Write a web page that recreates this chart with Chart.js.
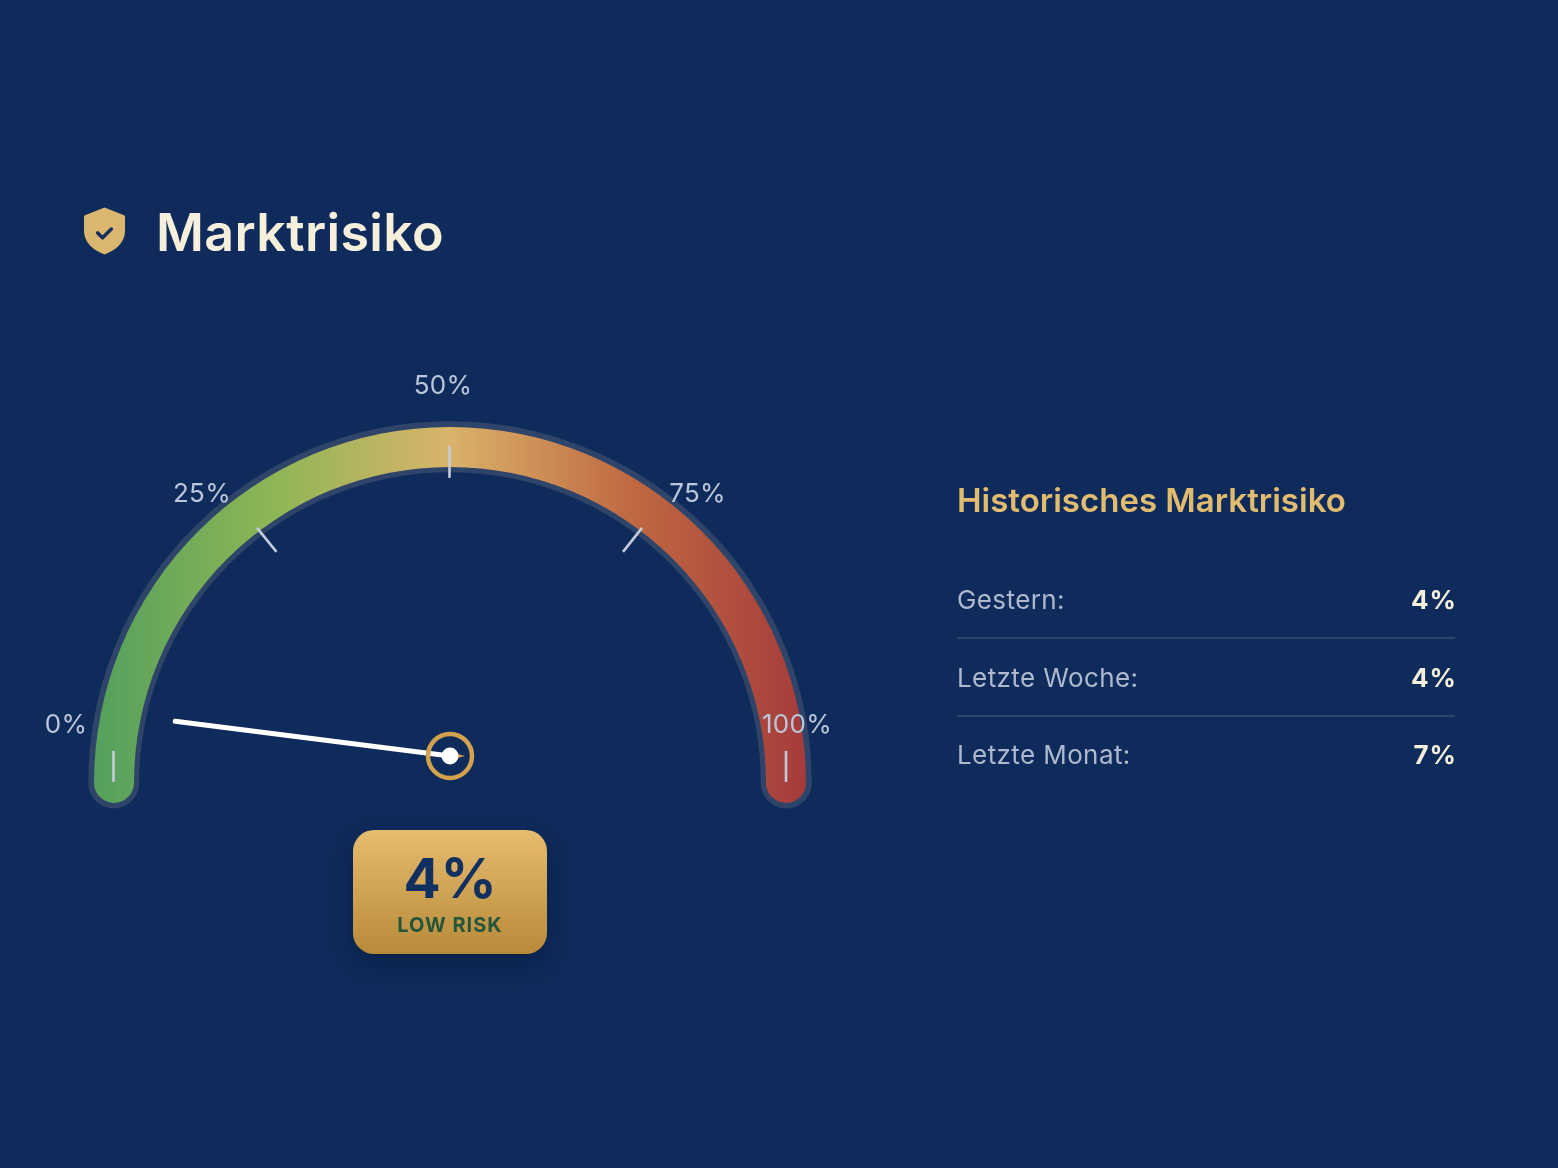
<!DOCTYPE html>
<html lang="de">
<head>
<meta charset="utf-8">
<title>Marktrisiko</title>
<script src="https://cdn.jsdelivr.net/npm/chart.js@4/dist/chart.umd.js"></script>
<style>
html,body{margin:0;padding:0;width:1558px;height:1168px;overflow:hidden;background:#0f2b5b;font-family:Inter,sans-serif}
#gauge{position:absolute;left:0;top:0;width:1558px;height:1168px}
.abs{position:absolute;white-space:nowrap}
#page{position:absolute;left:0;top:0;width:1558px;height:1168px;filter:blur(0.4px)}
#title{left:156px;top:201px;font-size:52px;line-height:63px;font-weight:600;color:#f5efdc;letter-spacing:.35px}
#shield{left:83px;top:205px;width:43px;height:52px}
#badge{left:353px;top:830px;width:194px;height:124px;border-radius:21px;background:linear-gradient(180deg,#e6bc6f,#b88a3a);box-shadow:0 10px 24px rgba(5,20,50,.45)}
#badgeValue{left:0;width:194px;top:14px;text-align:center;font-size:55px;line-height:68px;font-weight:700;color:#12305f}
#badgeText{left:0;width:194px;top:82px;text-align:center;font-size:20px;line-height:26px;font-weight:700;color:#25563b;letter-spacing:1px}
#histTitle{left:957px;top:479px;font-size:33px;line-height:42px;font-weight:600;color:#e2bc6e}
.rowL{left:957px;font-size:26px;line-height:32px;color:#aeb9d0;letter-spacing:.4px}
.rowV{right:101px;font-size:26px;line-height:32px;font-weight:700;color:#f5efdc;letter-spacing:1px}
.sep{left:957px;width:498px;height:2px;background:#2d4468}
</style>
</head>
<body>
<div id="page">
<canvas id="gauge" width="1558" height="1168"></canvas>
<svg id="shield" class="abs" viewBox="0 0 44 52">
  <path d="M22 2 L42 10 Q43 10.5 43 12 V26 C43 38 33 46 22 50 C11 46 1 38 1 26 V12 Q1 10.5 2 10 Z" fill="#dab66f"/>
  <path d="M15 28 L20 33 L29 24" fill="none" stroke="#12305f" stroke-width="3.6" stroke-linecap="round" stroke-linejoin="round"/>
</svg>
<div id="title" class="abs"></div>
<div id="badge" class="abs">
  <div id="badgeValue" class="abs"></div>
  <div id="badgeText" class="abs"></div>
</div>
<div id="histTitle" class="abs"></div>
<div id="rows"></div>
</div>
<script>
const chartTitle = 'Marktrisiko';
const historyTitle = 'Historisches Marktrisiko';
const riskLabel = 'LOW RISK';
const gaugeRange = [100];
const currentRisk = [4];
const tickValues = [0, 25, 50, 75, 100];
const tickLabels = ['0%', '25%', '50%', '75%', '100%'];
const historyLabels = ['Gestern:', 'Letzte Woche:', 'Letzte Monat:'];
const historyValues = [4, 4, 7];

document.getElementById('title').textContent = chartTitle;
document.getElementById('histTitle').textContent = historyTitle;
document.getElementById('badgeValue').textContent = currentRisk[0] + '%';
document.getElementById('badgeText').textContent = riskLabel;
const rows = document.getElementById('rows');
historyLabels.forEach((label, i) => {
  const top = 584 + i * 77.5;
  rows.insertAdjacentHTML('beforeend',
    `<div class="abs rowL" style="top:${top}px">${label}</div>` +
    `<div class="abs rowV" style="top:${top}px">${historyValues[i]}%</div>` +
    (i < historyLabels.length - 1 ? `<div class="abs sep" style="top:${top + 53}px"></div>` : ''));
});

const capDeg = 3.41;
const tickStyle = {
  0:   {from: [-336.5, -32], to: [-336.5, -1], label: [-384, -57.5]},
  25:  {from: [-193, -255], to: [-173.5, -231], label: [-248, -288.5]},
  50:  {from: [-0.5, -337], to: [-0.5, -305], label: [-7, -396.5]},
  75:  {from: [192, -255], to: [173, -231], label: [247.5, -288.5]},
  100: {from: [336, -32], to: [336, -1], label: [347, -57.5]}
};

const gaugeParts = {
  id: 'gaugeParts',
  beforeDatasetsDraw(chart) {
    const arc = chart.getDatasetMeta(0).data[0];
    const c = chart.ctx, mid = (arc.innerRadius + arc.outerRadius) / 2 + 0.25;
    const pad = capDeg * Math.PI / 180;
    c.save();
    c.strokeStyle = '#2e4569';
    c.lineWidth = 51;
    c.lineCap = 'round';
    c.beginPath();
    c.arc(arc.x, arc.y, mid, arc.startAngle + pad, arc.endAngle - pad);
    c.stroke();
    c.restore();
  },
  afterDraw(chart) {
    const arc = chart.getDatasetMeta(0).data[0];
    const c = chart.ctx, cx = arc.x, cy = arc.y;
    c.save();
    tickValues.forEach((v, i) => {
      const t = tickStyle[v];
      c.strokeStyle = '#c3cbdc';
      c.lineWidth = 2.6;
      c.beginPath();
      c.moveTo(cx + t.from[0], cy + t.from[1]);
      c.lineTo(cx + t.to[0], cy + t.to[1]);
      c.stroke();
      c.fillStyle = '#bcc6da';
      c.font = '400 26px Inter, sans-serif';
      c.letterSpacing = '0.3px';
      c.textAlign = 'center';
      c.textBaseline = 'middle';
      c.fillText(tickLabels[i], cx + t.label[0], cy + t.label[1]);
    });
    // needle: angle comes from the risk value across the half circle
    const px = cx, py = cy - 27;
    const a = Math.PI + (currentRisk[0] / gaugeRange[0]) * Math.PI;
    const len = 277;
    const tx = px + Math.cos(a) * len, ty = py + Math.sin(a) * len;
    c.fillStyle = '#d2a24c';
    c.beginPath();
    c.moveTo(px + 15, py);
    c.lineTo(px, py - 4);
    c.lineTo(px, py + 4);
    c.closePath();
    c.fill();
    c.strokeStyle = '#ffffff';
    c.lineWidth = 5;
    c.lineCap = 'round';
    c.beginPath();
    c.moveTo(tx, ty);
    c.lineTo(px, py);
    c.stroke();
    c.strokeStyle = '#d2a24c';
    c.lineWidth = 4.5;
    c.beginPath();
    c.arc(px, py, 22, 0, Math.PI * 2);
    c.stroke();
    c.fillStyle = '#ffffff';
    c.beginPath();
    c.arc(px, py, 8.5, 0, Math.PI * 2);
    c.fill();
    c.restore();
  }
};

new Chart(document.getElementById('gauge'), {
  type: 'doughnut',
  data: {
    labels: ['Marktrisiko'],
    datasets: [{
      data: gaugeRange,
      borderWidth: 0,
      borderRadius: 20,
      backgroundColor(ctx) {
        const area = ctx.chart.chartArea;
        if (!area) return '#dab36a';
        const g = ctx.chart.ctx.createLinearGradient(94, 0, 806, 0);
        g.addColorStop(0, '#54a05d');
        g.addColorStop(0.25, '#8eb655');
        g.addColorStop(0.5, '#dab36a');
        g.addColorStop(0.75, '#c06a42');
        g.addColorStop(1, '#a53b3b');
        return g;
      }
    }]
  },
  options: {
    responsive: false,
    animation: false,
    rotation: -90 - capDeg,
    circumference: 180 + 2 * capDeg,
    radius: 356,
    cutout: '88.76%',
    layout: {padding: {top: 63, right: 658, bottom: 0, left: 0}},
    plugins: {legend: {display: false}, tooltip: {enabled: false}, title: {display: false}}
  },
  plugins: [gaugeParts]
});
</script>
</body>
</html>
